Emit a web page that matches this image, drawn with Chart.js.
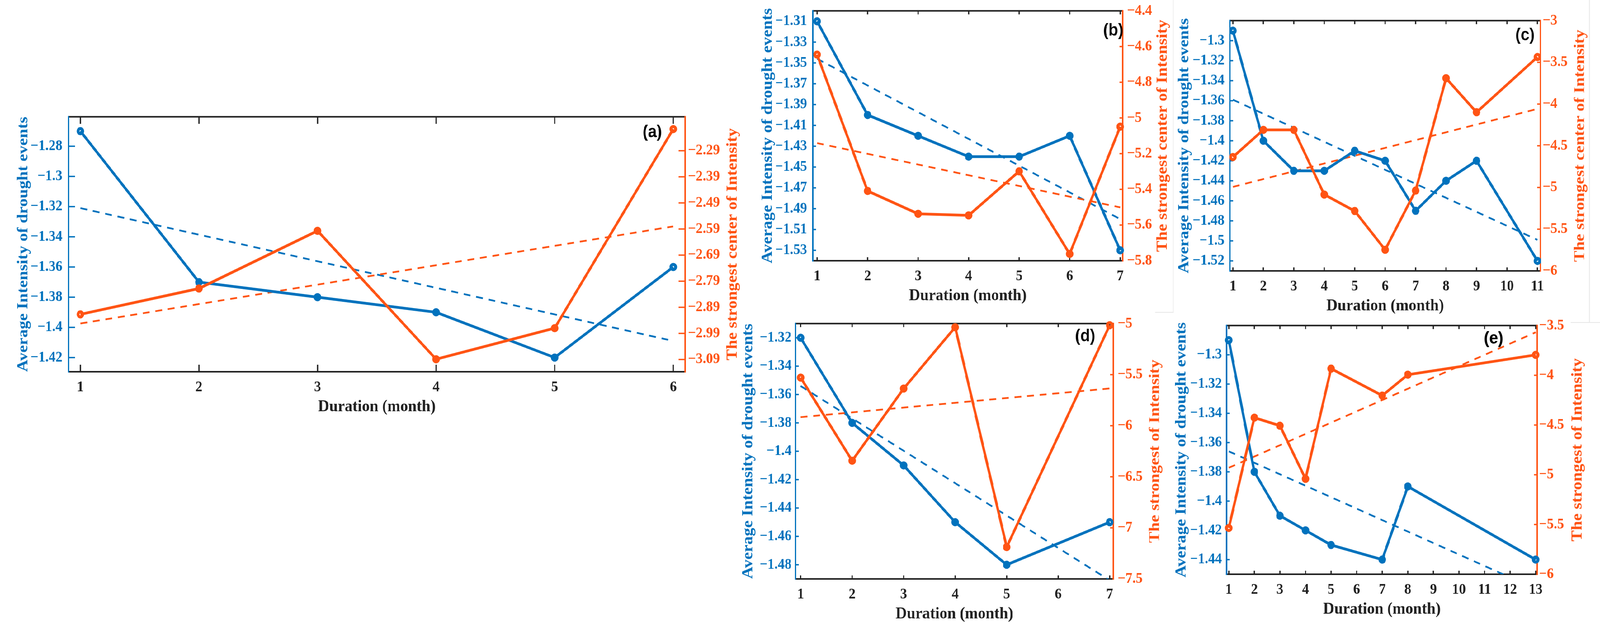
<!DOCTYPE html>
<html>
<head>
<meta charset="utf-8">
<script src="https://cdn.jsdelivr.net/npm/chart.js@4.4.1/dist/chart.umd.min.js"></script>
<style>
  html, body { margin: 0; padding: 0; background: #fff; overflow: hidden; }
  #stage { position: absolute; left: 0; top: 0; width: 4435px; height: 1627px; overflow: hidden; transform-origin: 0 0; }
  #stage canvas { position: absolute; }
  .frame { position: absolute; background: #e6e6e6; }
</style>
</head>
<body>
<div id="stage">
  <div class="frame" style="left:3251px;top:0;width:2px;height:800px"></div>
  <div class="frame" style="left:3202px;top:798px;width:51px;height:2px"></div>
  <div class="frame" style="left:4405px;top:0;width:2px;height:825px"></div>
  <div class="frame" style="left:4354px;top:824px;width:81px;height:2px"></div>

  <canvas id="pa"></canvas>
  <canvas id="pb"></canvas>
  <canvas id="pc"></canvas>
  <canvas id="pd"></canvas>
  <canvas id="pe"></canvas>
</div>

<script>
// ---- data ----
// (a)
const durA = [1, 2, 3, 4, 5, 6];
const avgA = [-1.27, -1.37, -1.38, -1.39, -1.42, -1.36];
const strA = [-2.917, -2.818, -2.597, -3.089, -2.970, -2.207];
const avgTrendA = [-1.321, -1.409];   // dashed fit, first and last duration
const strTrendA = [-2.952, -2.580];
const xTicksA = [1, 2, 3, 4, 5, 6];
const avgTicksA = [-1.42, -1.40, -1.38, -1.36, -1.34, -1.32, -1.30, -1.28];
const strTicksA = [-3.09, -2.99, -2.89, -2.79, -2.69, -2.59, -2.49, -2.39, -2.29];

// (b)
const durB = [1, 2, 3, 4, 5, 6, 7];
const avgB = [-1.31, -1.40, -1.42, -1.44, -1.44, -1.42, -1.53];
const strB = [-4.645, -5.409, -5.537, -5.546, -5.299, -5.762, -5.049];
const avgTrendB = [-1.346, -1.500];
const strTrendB = [-5.141, -5.501];
const xTicksB = [1, 2, 3, 4, 5, 6, 7];
const avgTicksB = [-1.53, -1.51, -1.49, -1.47, -1.45, -1.43, -1.41, -1.39, -1.37, -1.35, -1.33, -1.31];
const strTicksB = [-5.8, -5.6, -5.4, -5.2, -5.0, -4.8, -4.6, -4.4];

// (c)
const durC = [1, 2, 3, 4, 5, 6, 7, 8, 9, 11];
const avgC = [-1.29, -1.40, -1.43, -1.43, -1.41, -1.42, -1.47, -1.44, -1.42, -1.52];
const strC = [-4.635, -4.309, -4.309, -5.085, -5.282, -5.747, -5.037, -3.690, -4.098, -3.436];
const avgTrendC = [-1.359, -1.499];
const strTrendC = [-4.993, -4.058];
const xTicksC = [1, 2, 3, 4, 5, 6, 7, 8, 9, 10, 11];
const avgTicksC = [-1.52, -1.50, -1.48, -1.46, -1.44, -1.42, -1.40, -1.38, -1.36, -1.34, -1.32, -1.30];
const strTicksC = [-6, -5.5, -5, -4.5, -4, -3.5, -3];

// (d)
const durD = [1, 2, 3, 4, 5, 7];
const avgD = [-1.32, -1.38, -1.41, -1.45, -1.48, -1.45];
const strD = [-5.529, -6.343, -5.636, -5.036, -7.188, -5.016];
const avgTrendD = [-1.354, -1.491];
const strTrendD = [-5.916, -5.635];
const xTicksD = [1, 2, 3, 4, 5, 6, 7];
const avgTicksD = [-1.48, -1.46, -1.44, -1.42, -1.40, -1.38, -1.36, -1.34, -1.32];
const strTicksD = [-7.5, -7, -6.5, -6, -5.5, -5];

// (e)
const durE = [1, 2, 3, 4, 5, 7, 8, 13];
const avgE = [-1.29, -1.38, -1.41, -1.42, -1.43, -1.44, -1.39, -1.44];
const strE = [-5.535, -4.426, -4.507, -5.041, -3.933, -4.204, -3.994, -3.795];
const avgTrendE = [-1.366, -1.460];
const strTrendE = [-4.930, -3.568];
const xTicksE = [1, 2, 3, 4, 5, 6, 7, 8, 9, 10, 11, 12, 13];
const avgTicksE = [-1.44, -1.42, -1.40, -1.38, -1.36, -1.34, -1.32, -1.30];
const strTicksE = [-6, -5.5, -5, -4.5, -4, -3.5];

const xTitle = 'Duration (month)';
const leftTitle = 'Average Intensity of drought events';
const rightTitleLong = 'The strongest center of Intensity';
const rightTitleShort = 'The strongest of Intensity';

// ---- styling ----
const BLUE = '#0072BD';
const ORANGE = '#FF5414';
const DARK = '#222222';
const SERIF = "'Liberation Serif', 'Times New Roman', serif";
const SANS = "'Liberation Sans', Arial, sans-serif";

// the figure is laid out on a 4435x1627 stage, squeezed into whatever viewport we get
const stage = document.getElementById('stage');
const vw = document.documentElement.clientWidth || window.innerWidth;
const vh = document.documentElement.clientHeight || window.innerHeight;
stage.style.transform = 'scale(' + (vw / 4435) + ',' + (vh / 1627) + ')';

function fmt(v) {
    return String(+v.toFixed(2)).replace('-', '\u2212');
}

function seg(ctx, x1, y1, x2, y2) {
    ctx.beginPath();
    ctx.moveTo(x1, y1);
    ctx.lineTo(x2, y2);
    ctx.stroke();
}

// matlab-like box with inward ticks, right label and panel tag
const matlabAxes = {
    id: 'matlabAxes',
    beforeDatasetsDraw(chart, args, o) {
        const { ctx, chartArea: a, scales } = chart;
        const len = o.tickLen;
        ctx.save();
        ctx.lineWidth = 3.5;
        ctx.strokeStyle = DARK;
        for (const t of scales.x.ticks) {
            const px = scales.x.getPixelForValue(t.value);
            seg(ctx, px, a.top, px, a.top + len);
            seg(ctx, px, a.bottom, px, a.bottom - len);
        }
        ctx.strokeStyle = BLUE;
        for (const t of scales.yL.ticks) {
            const py = scales.yL.getPixelForValue(t.value);
            seg(ctx, a.left, py, a.left + len, py);
        }
        ctx.strokeStyle = ORANGE;
        for (const t of scales.yR.ticks) {
            const py = scales.yR.getPixelForValue(t.value);
            seg(ctx, a.right, py, a.right - len, py);
        }
        ctx.lineWidth = 4;
        ctx.strokeStyle = DARK;
        seg(ctx, a.left, a.top, a.right, a.top);
        seg(ctx, a.left, a.bottom, a.right, a.bottom);
        ctx.strokeStyle = BLUE;
        seg(ctx, a.left, a.top - 2, a.left, a.bottom + 2);
        ctx.strokeStyle = ORANGE;
        seg(ctx, a.right, a.top - 2, a.right, a.bottom + 2);
        ctx.restore();
    },
    afterDraw(chart, args, o) {
        const { ctx, chartArea: a } = chart;
        ctx.save();
        ctx.translate(a.right + o.rightTitleOff, (a.top + a.bottom) / 2);
        ctx.rotate(-Math.PI / 2);
        ctx.font = 'bold 43px ' + SERIF;
        ctx.fillStyle = ORANGE;
        ctx.textAlign = 'center';
        ctx.textBaseline = 'middle';
        ctx.fillText(o.rightTitle, 0, 0);
        ctx.restore();

        ctx.save();
        ctx.font = 'bold 44px ' + SANS;
        ctx.fillStyle = '#000';
        ctx.textAlign = 'right';
        ctx.textBaseline = 'middle';
        ctx.fillText(o.tag, a.right - o.tagRight, a.top + o.tagDown);
        ctx.restore();
    }
};

function pts(xs, ys) {
    return xs.map((x, i) => ({ x: x, y: ys[i] }));
}

function panel(id, d, lay) {
    const [L, T, R, B] = lay.box;
    const leftW = 160, rightW = 180, topPad = 30, bottomH = 116;
    const cv = document.getElementById(id);
    cv.width = leftW + (R - L) + rightW;
    cv.height = topPad + (B - T) + bottomH;
    cv.style.left = (L - leftW) + 'px';
    cv.style.top = (T - topPad) + 'px';

    const tickFont = { family: SERIF, size: 38, weight: 'bold', lineHeight: 1.2 };
    const titleFont = { family: SERIF, size: 43, weight: 'bold', lineHeight: 1.2 };
    const ends = [d.dur[0], d.dur[d.dur.length - 1]];
    const dataLine = (color) => ({
        borderColor: color, borderWidth: 7, tension: 0,
        pointRadius: 6.5, pointBorderWidth: 8, pointBorderColor: color,
        pointBackgroundColor: 'rgba(0,0,0,0)', clip: false
    });
    const trendLine = (color) => ({
        borderColor: color, borderWidth: 4.5, borderDash: [19, 16],
        pointRadius: 0, clip: 0
    });

    return new Chart(cv, {
        type: 'line',
        data: {
            datasets: [
                Object.assign({ data: pts(d.dur, d.str), yAxisID: 'yR', order: 0 }, dataLine(ORANGE)),
                Object.assign({ data: pts(d.dur, d.avg), yAxisID: 'yL', order: 1 }, dataLine(BLUE)),
                Object.assign({ data: pts(ends, d.strTrend), yAxisID: 'yR', order: 2 }, trendLine(ORANGE)),
                Object.assign({ data: pts(ends, d.avgTrend), yAxisID: 'yL', order: 3 }, trendLine(BLUE))
            ]
        },
        options: {
            responsive: false,
            animation: false,
            devicePixelRatio: 1,
            layout: { padding: { top: topPad, left: 0, right: 0, bottom: 0 }, autoPadding: false },
            plugins: {
                legend: { display: false },
                tooltip: { enabled: false },
                matlabAxes: {
                    tickLen: lay.tickLen, rightTitle: lay.rightTitle, rightTitleOff: lay.rightTitleOff,
                    tag: lay.tag, tagRight: lay.tagRight, tagDown: lay.tagDown
                }
            },
            scales: {
                x: {
                    type: 'linear', position: 'bottom', min: d.xRange[0], max: d.xRange[1],
                    afterBuildTicks: s => { s.ticks = d.xTicks.map(v => ({ value: v })); },
                    afterFit: s => { s.height = bottomH; },
                    grid: { display: false, drawTicks: false },
                    border: { display: false },
                    ticks: { font: tickFont, color: DARK, padding: 17, maxRotation: 0, autoSkip: false,
                             callback: v => String(v) },
                    title: { display: true, text: xTitle, font: titleFont, color: DARK, padding: 0 }
                },
                yL: {
                    type: 'linear', position: 'left', min: d.avgRange[0], max: d.avgRange[1],
                    afterBuildTicks: s => { s.ticks = d.avgTicks.map(v => ({ value: v })); },
                    afterFit: s => { s.width = leftW; },
                    grid: { display: false, drawTicks: false },
                    border: { display: false },
                    ticks: { font: tickFont, color: BLUE, padding: lay.leftPad, autoSkip: false, callback: fmt },
                    title: { display: true, text: leftTitle, font: titleFont, color: BLUE,
                             padding: { top: lay.leftTitlePad, bottom: 0 } }
                },
                yR: {
                    type: 'linear', position: 'right', min: d.strRange[0], max: d.strRange[1],
                    afterBuildTicks: s => { s.ticks = d.strTicks.map(v => ({ value: v })); },
                    afterFit: s => { s.width = rightW; },
                    grid: { display: false, drawTicks: false },
                    border: { display: false },
                    ticks: { font: tickFont, color: ORANGE, padding: lay.rightPad, autoSkip: false, callback: fmt }
                }
            }
        },
        plugins: [matlabAxes]
    });
}

panel('pa',
    { dur: durA, avg: avgA, str: strA, avgTrend: avgTrendA, strTrend: strTrendA,
      xTicks: xTicksA, avgTicks: avgTicksA, strTicks: strTicksA,
      xRange: [0.9, 6.1], avgRange: [-1.4294, -1.2605], strRange: [-3.137, -2.160] },
    { box: [190, 289, 1899, 951], tickLen: 18, leftPad: 17, rightPad: 8, leftTitlePad: 9,
      rightTitle: rightTitleLong, rightTitleOff: 132, tag: '(a)', tagRight: 64, tagDown: 40 });

panel('pb',
    { dur: durB, avg: avgB, str: strB, avgTrend: avgTrendB, strTrend: strTrendB,
      xTicks: xTicksB, avgTicks: avgTicksB, strTicks: strTicksB,
      xRange: [0.915, 7.05], avgRange: [-1.54, -1.30], strRange: [-5.8, -4.4] },
    { box: [2253, 19, 3112, 667], tickLen: 9, leftPad: 16, rightPad: 12, leftTitlePad: 9,
      rightTitle: rightTitleLong, rightTitleOff: 111, tag: '(b)', tagRight: -2, tagDown: 51 });

panel('pc',
    { dur: durC, avg: avgC, str: strC, avgTrend: avgTrendC, strTrend: strTrendC,
      xTicks: xTicksC, avgTicks: avgTicksC, strTicks: strTicksC,
      xRange: [0.9, 11.1], avgRange: [-1.53, -1.28], strRange: [-6, -3] },
    { box: [3409, 45, 4270, 693], tickLen: 9, leftPad: 15, rightPad: 6, leftTitlePad: 8,
      rightTitle: rightTitleLong, rightTitleOff: 110, tag: '(c)', tagRight: 16, tagDown: 38 });

panel('pd',
    { dur: durD, avg: avgD, str: strD, avgTrend: avgTrendD, strTrend: strTrendD,
      xTicks: xTicksD, avgTicks: avgTicksD, strTicks: strTicksD,
      xRange: [0.9, 7.07], avgRange: [-1.49, -1.31], strRange: [-7.5, -5] },
    { box: [2205, 823, 3086, 1481], tickLen: 9, leftPad: 11, rightPad: 12, leftTitlePad: 3,
      rightTitle: rightTitleShort, rightTitleOff: 116, tag: '(d)', tagRight: 50, tagDown: 33 });

panel('pe',
    { dur: durE, avg: avgE, str: strE, avgTrend: avgTrendE, strTrend: strTrendE,
      xTicks: xTicksE, avgTicks: avgTicksE, strTicks: strTicksE,
      xRange: [0.915, 13.06], avgRange: [-1.45, -1.28], strRange: [-6, -3.5] },
    { box: [3400, 827, 4261, 1469], tickLen: 9, leftPad: 13, rightPad: 5, leftTitlePad: 9,
      rightTitle: rightTitleShort, rightTitleOff: 112, tag: '(e)', tagRight: 94, tagDown: 34 });
</script>
</body>
</html>
